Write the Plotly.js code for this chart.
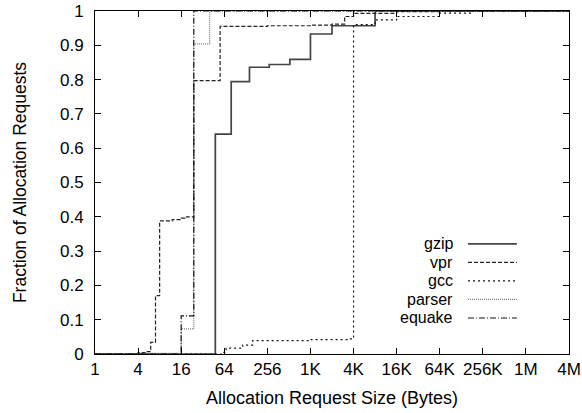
<!DOCTYPE html>
<html>
<head>
<meta charset="utf-8">
<script src="https://cdn.plot.ly/plotly-3.0.1.min.js"></script>
<style>html,body{margin:0;padding:0;background:#fff;}#chart{width:582px;height:413px;}</style>
</head>
<body>
<div id="chart"></div>
<script>
// Tick labels
const tickVals = [1, 4, 16, 64, 256, 1024, 4096, 16384, 65536, 262144, 1048576, 4194304];
const tickText = ['1', '4', '16', '64', '256', '1K', '4K', '16K', '64K', '256K', '1M', '4M'];

// Series (step CDFs): sizes in bytes, cumulative fraction
const seriesNames = ['gzip', 'vpr', 'gcc', 'parser', 'equake'];

const gzipX = [1, 48, 80, 144, 272, 528, 1024, 2048, 8192, 4194304];
const gzipY = [0, 0.641, 0.794, 0.836, 0.844, 0.859, 0.933, 0.957, 1, 1];

const vprX = [1, 4, 5, 6, 7, 8, 12, 16, 18, 24, 56, 256, 1024, 2048, 3072, 4096, 16384, 65536, 4194304];
const vprY = [0, 0.004, 0.007, 0.034, 0.17, 0.388, 0.392, 0.396, 0.4, 0.797, 0.955, 0.957, 0.959, 0.962, 0.984, 0.993, 0.998, 1, 1];

const gccX = [1, 60, 68, 116, 160, 1024, 3500, 4096, 8192, 16384, 65536, 180000, 4194304];
const gccY = [0, 0.005, 0.017, 0.026, 0.039, 0.042, 0.044, 0.960, 0.974, 0.984, 0.994, 1, 1];

const parserX = [1, 4, 16, 24, 40, 4194304];
const parserY = [0, 0.002, 0.073, 0.904, 1, 1];

const equakeX = [1, 16, 24, 4194304];
const equakeY = [0, 0.111, 1, 1];

const styles = [
  {color: '#444', width: 1.7, dash: 'solid'},
  {color: '#222', width: 1.2, dash: '4px,2px'},
  {color: '#111', width: 1.2, dash: '2px,3px'},
  {color: '#777', width: 1.2, dash: '1px,1px'},
  {color: '#111', width: 1.2, dash: '6px,2px,1px,2px'}
];

const xs = [gzipX, vprX, gccX, parserX, equakeX];
const ys = [gzipY, vprY, gccY, parserY, equakeY];

const traces = seriesNames.map((n, i) => ({
  x: xs[i], y: ys[i], name: n, type: 'scatter', mode: 'lines',
  line: {shape: 'hv', color: styles[i].color, width: styles[i].width, dash: styles[i].dash},
  showlegend: false, hoverinfo: 'skip'
}));

const fontFam = 'Liberation Sans, Arial, sans-serif';

// custom legend (text right, sample line to its right)
const legTextX = 0.759, legLineX0 = 0.787, legLineX1 = 0.890, legY0 = 0.321, legStep = 0.054;
const annotations = seriesNames.map((n, i) => ({
  xref: 'paper', yref: 'paper', x: legTextX, y: legY0 - i * legStep,
  xanchor: 'right', yanchor: 'middle', text: n, showarrow: false,
  font: {family: fontFam, size: 16, color: '#000'}
}));
const shapes = seriesNames.map((n, i) => ({
  type: 'line', xref: 'paper', yref: 'paper',
  x0: legLineX0, x1: legLineX1, y0: legY0 - i * legStep, y1: legY0 - i * legStep,
  line: {color: styles[i].color, width: styles[i].width, dash: styles[i].dash}
}));

const layout = {
  width: 582, height: 413,
  margin: {l: 95, r: 13, t: 11, b: 59},
  paper_bgcolor: '#fff', plot_bgcolor: '#fff',
  font: {family: fontFam, size: 16, color: '#000'},
  xaxis: {
    type: 'log', range: [0, Math.log10(4194304)],
    tickvals: tickVals, ticktext: tickText,
    ticks: 'inside', ticklen: 6, tickcolor: '#000', tickwidth: 1,
    showline: true, linecolor: '#000', linewidth: 1, mirror: 'ticks',
    showgrid: false, zeroline: false, automargin: false,
    tickfont: {family: fontFam, size: 17},
    title: {text: 'Allocation Request Size (Bytes)', font: {family: fontFam, size: 18}, standoff: 12}
  },
  yaxis: {
    range: [0, 1], dtick: 0.1, tick0: 0,
    ticks: 'inside', ticklen: 6, tickcolor: '#000', tickwidth: 1,
    ticklabelstandoff: 7,
    showline: true, linecolor: '#000', linewidth: 1, mirror: 'ticks',
    showgrid: false, zeroline: false, automargin: false,
    tickfont: {family: fontFam, size: 17},
    title: {text: 'Fraction of Allocation Requests', font: {family: fontFam, size: 17.5}, standoff: 28}
  },
  annotations: annotations,
  shapes: shapes,
  showlegend: false
};

Plotly.newPlot('chart', traces, layout, {staticPlot: true, displayModeBar: false});
</script>
</body>
</html>
